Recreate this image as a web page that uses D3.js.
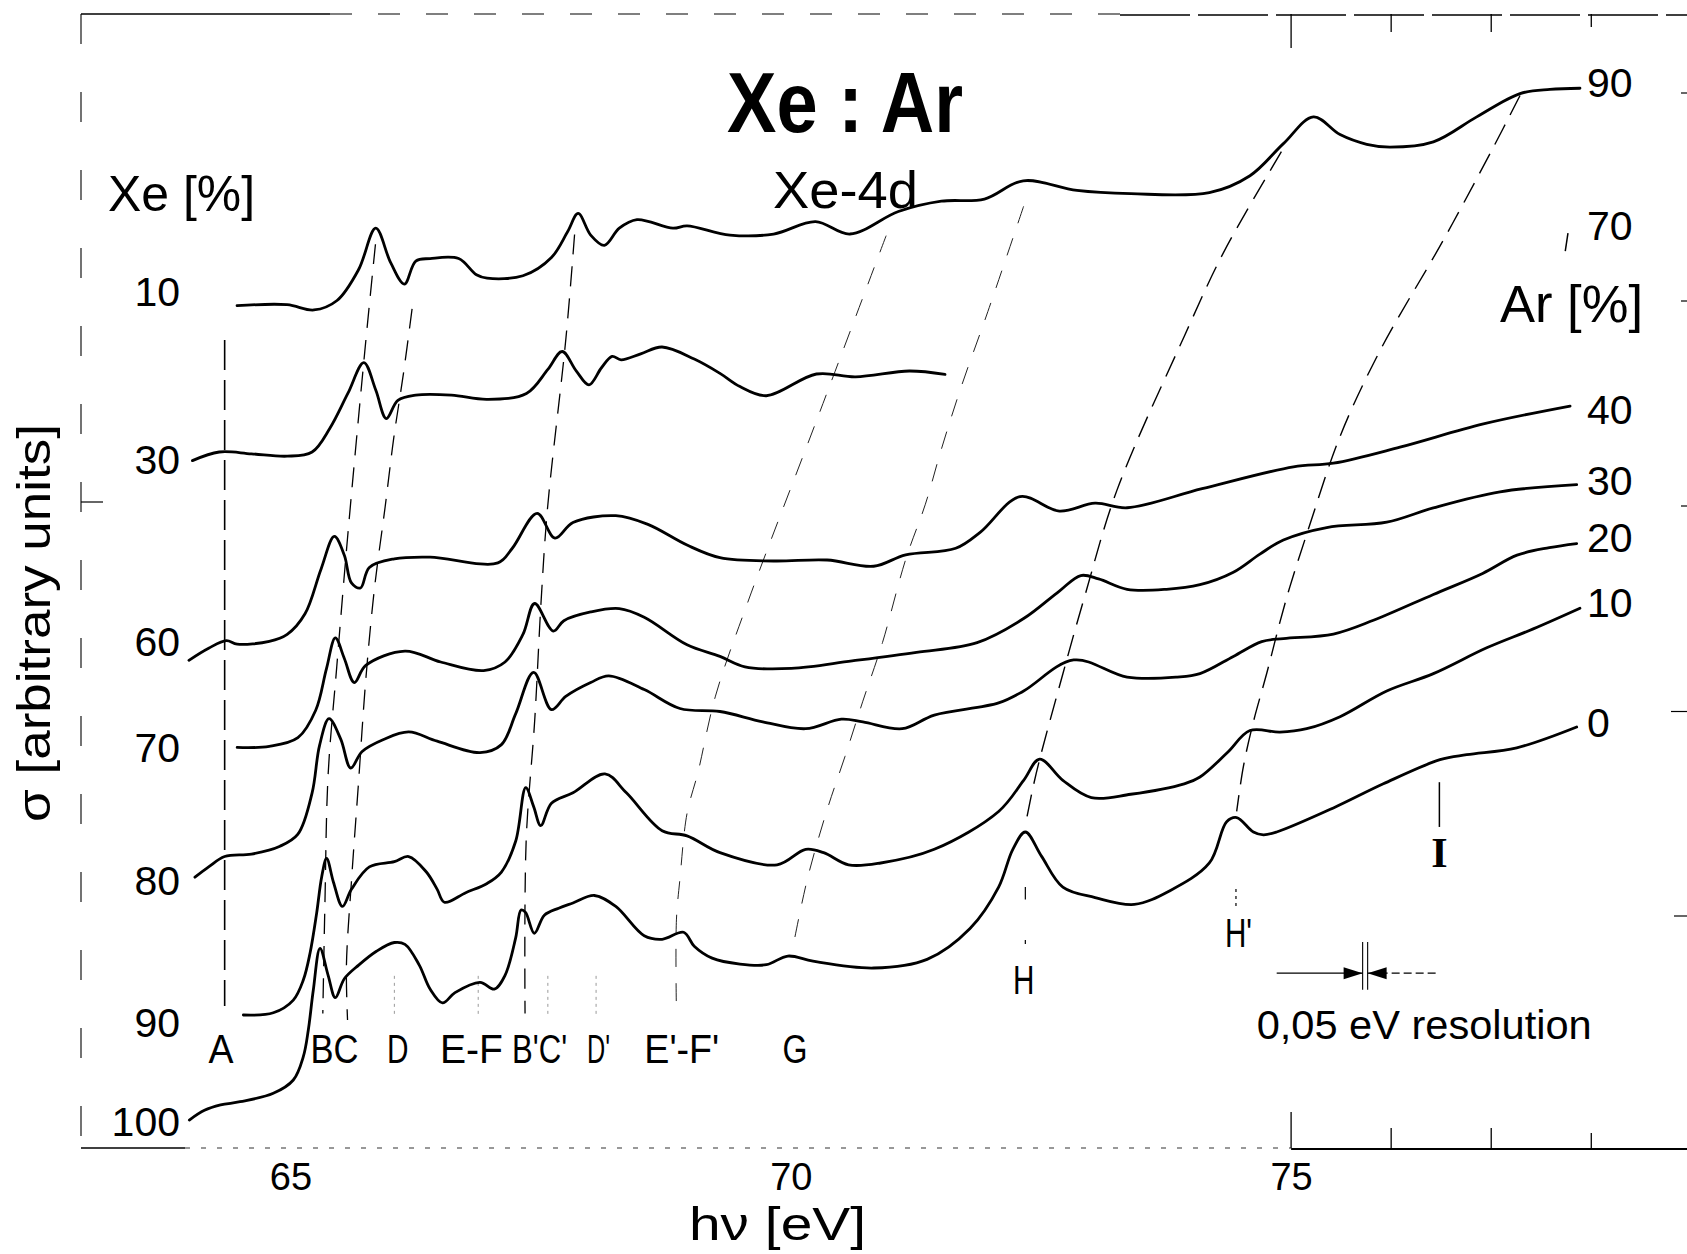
<!DOCTYPE html>
<html><head><meta charset="utf-8">
<script src="https://cdn.jsdelivr.net/npm/d3@7"></script>
<style>html,body{margin:0;padding:0;background:#fff;overflow:hidden}</style>
</head><body>
<svg id="chart" width="1687" height="1254"></svg>
<script>
// ---------- DATA (photon energy hv [eV], sigma [arbitrary units]) ----------
const xe10 = [[64.466,78.29],[64.966,78.38],[65.234,77.89],[65.465,78.77],[65.681,81.65],[65.852,85.49],[66.001,82.29],[66.138,80.3],[66.252,82.44],[66.395,82.67],[66.68,82.67],[66.858,81.17],[66.965,80.85],[67.323,81.07],[67.608,82.77],[67.769,85.16],[67.875,86.86],[68.0,84.85],[68.137,83.89],[68.286,85.49],[68.463,86.29],[68.822,85.49],[68.963,85.71],[69.392,84.85],[69.828,84.95],[70.247,86.1],[70.591,84.95],[71.075,87.04],[71.505,88.0],[71.935,88.2],[72.323,89.9],[72.86,89.0],[73.398,88.7],[74.183,88.8],[74.589,90.37],[74.923,93.35],[75.223,95.84],[75.489,94.19],[75.756,93.29],[75.988,93.03],[76.422,93.52],[76.855,95.84],[77.288,98.0],[77.587,98.4],[77.887,98.5]];
const xe30 = [[64.020,63.89],[64.288,64.69],[64.610,64.52],[64.967,64.3],[65.216,64.69],[65.395,66.92],[65.573,70.13],[65.733,73.0],[65.852,70.45],[65.958,67.8],[66.073,69.49],[66.252,69.97],[66.609,69.97],[66.965,69.58],[67.358,70.13],[67.572,72.37],[67.715,74.03],[67.857,72.21],[67.983,70.93],[68.108,72.52],[68.214,73.58],[68.304,73.26],[68.5,73.81],[68.713,74.45],[69.035,73.33],[69.292,72.0],[69.492,70.77],[69.756,69.92],[70.256,71.94],[70.648,71.68],[71.185,72.22],[71.541,71.9]];
const xe60 = [[63.985,45.33],[64.182,46.45],[64.359,47.16],[64.467,46.83],[64.788,47.09],[64.967,47.74],[65.145,49.65],[65.305,53.8],[65.438,56.84],[65.538,55.09],[65.609,52.52],[65.699,52.05],[65.788,53.96],[66.038,54.76],[66.395,54.92],[67.073,54.38],[67.215,55.72],[67.465,58.99],[67.643,56.68],[67.823,58.13],[68.251,58.77],[68.572,57.96],[68.963,56.04],[69.292,54.87],[69.828,54.56],[70.363,54.65],[70.828,54.07],[71.148,55.13],[71.648,55.74],[71.898,57.27],[72.290,60.54],[72.684,59.2],[73.041,59.93],[73.361,59.51],[74.111,61.28],[75.023,63.31],[75.423,63.65],[76.088,65.14],[76.922,67.3],[77.788,68.96]];
const xe70 = [[64.467,37.23],[64.788,37.33],[65.074,38.14],[65.252,40.69],[65.359,44.53],[65.448,47.41],[65.538,45.5],[65.638,43.26],[65.752,44.85],[66.144,46.19],[66.501,45.17],[66.930,44.37],[67.144,45.17],[67.323,47.73],[67.44,50.61],[67.626,48.05],[67.732,49.01],[68.0,49.82],[68.286,50.13],[68.535,49.33],[68.963,46.77],[69.292,45.69],[69.542,44.72],[70.006,44.57],[70.613,45.27],[71.256,46.07],[71.862,46.97],[72.327,49.21],[72.684,51.77],[72.898,53.21],[73.076,52.89],[73.361,51.93],[73.754,51.93],[74.089,52.36],[74.423,53.52],[74.688,55.2],[74.923,56.51],[75.356,57.67],[75.956,58.17],[76.422,59.5],[77.088,60.99],[77.854,61.66]];
const xe80 = [[64.045,25.17],[64.182,26.13],[64.342,27.09],[64.610,27.32],[64.895,28.05],[65.074,29.17],[65.216,33.01],[65.290,37.4],[65.385,39.9],[65.502,38.0],[65.602,35.32],[65.716,36.85],[65.930,37.97],[66.181,38.67],[66.466,37.81],[66.894,36.75],[67.108,37.49],[67.251,40.37],[67.430,44.21],[67.608,40.75],[67.751,41.97],[68.0,43.26],[68.180,43.89],[68.535,42.61],[68.892,40.85],[69.292,40.57],[69.720,39.61],[70.149,38.97],[70.505,39.86],[70.720,39.61],[71.113,38.97],[71.434,40.24],[72.077,41.37],[72.327,42.48],[72.827,45.36],[73.361,43.77],[73.861,43.77],[74.089,44.09],[74.423,45.69],[74.706,47.07],[74.923,47.35],[75.423,47.77],[75.823,49.05],[76.422,51.45],[76.914,53.4],[77.258,55.1],[77.581,55.8],[77.854,56.18]];
const xe90 = [[64.529,12.36],[64.828,12.57],[65.028,13.75],[65.128,15.61],[65.195,18.1],[65.261,21.81],[65.312,25.22],[65.361,26.92],[65.430,24.68],[65.519,22.45],[65.609,24.04],[65.788,26.13],[66.038,26.61],[66.181,27.09],[66.358,25.65],[66.466,24.04],[66.538,22.84],[66.751,23.73],[66.965,24.59],[67.108,25.65],[67.251,28.53],[67.351,33.49],[67.43,31.73],[67.501,29.96],[67.608,32.05],[67.823,33.01],[68.143,34.77],[68.357,33.01],[68.714,29.49],[68.963,29.01],[69.292,27.45],[69.863,26.32],[70.149,27.76],[70.328,27.45],[70.577,26.32],[70.899,26.49],[71.434,27.76],[72.077,31.28],[72.327,34.17],[72.487,36.15],[72.719,34.17],[73.004,32.57],[73.397,32.88],[73.932,33.85],[74.089,34.48],[74.361,36.73],[74.589,38.8],[74.889,38.65],[75.156,38.97],[75.489,40.09],[75.956,42.48],[76.422,44.09],[76.955,46.49],[77.420,48.25],[77.887,50.17]];
const xe100 = [[63.989,2.6],[64.140,3.5],[64.301,4.0],[64.496,4.3],[64.828,5.08],[65.028,6.32],[65.128,8.49],[65.178,10.97],[65.228,14.68],[65.295,18.56],[65.376,16.05],[65.448,13.97],[65.538,15.73],[65.681,17.0],[65.859,18.29],[66.038,19.1],[66.144,18.93],[66.287,17.0],[66.395,14.77],[66.519,13.48],[66.644,14.44],[66.894,15.4],[67.037,14.77],[67.144,16.05],[67.251,19.56],[67.304,22.12],[67.349,21.9],[67.437,19.96],[67.537,21.64],[67.680,22.29],[67.823,22.77],[68.037,23.47],[68.251,22.45],[68.535,19.73],[68.714,19.4],[68.929,20.05],[69.035,18.76],[69.214,17.65],[69.492,17.1],[69.756,17.04],[69.971,17.84],[70.222,17.36],[70.828,16.73],[71.362,17.53],[71.791,20.4],[72.077,24.25],[72.219,27.76],[72.344,29.37],[72.505,27.13],[72.719,24.25],[73.041,23.28],[73.433,22.64],[73.790,23.92],[74.183,26.49],[74.356,30.33],[74.456,30.71],[74.623,29.37],[74.723,29.11],[74.856,29.37],[75.423,31.61],[75.922,33.85],[76.488,36.09],[76.755,36.56],[77.255,37.2],[77.854,39.13]];

const xeLabels = ["10","30","60","70","80","90","100"];
const arLabels = ["90","70","40","30","20","10","0"];
const xTickValues = [65, 70, 75];
const frameTickValues = [75, 76, 77, 78];

// dashed correlation lines between features
const guideA   = [[64.342,75.1],[64.342,13.2]];
const guideB   = [[65.849,84.0],[65.742,74.0],[65.570,56.7],[65.462,44.7],[65.376,34.7],[65.344,22.7],[65.323,12.5]];
const guideC   = [[66.215,78.0],[66.129,72.0],[66.032,66.0],[65.946,59.6],[65.839,52.0],[65.753,43.6],[65.677,33.6],[65.613,25.3],[65.559,17.0],[65.570,11.9]];
const guideBp  = [[67.839,84.9],[67.753,75.3],[67.570,59.6],[67.505,50.9],[67.441,39.8],[67.355,28.5],[67.344,12.5]];
const guideEFp = [[70.953,84.8],[70.269,67.9],[69.578,50.93],[69.247,42.0],[69.072,34.9],[68.963,31.1],[68.892,25.0],[68.857,21.2],[68.857,12.5]];
const guideG   = [[72.327,87.53],[71.970,77.76],[71.702,70.72],[71.505,64.96],[71.345,59.84],[71.148,54.7],[70.916,46.97],[70.720,41.53],[70.542,36.4],[70.363,31.44],[70.167,25.05],[70.024,18.8]];
const guideH   = [[74.903,92.6],[74.323,83.2],[73.935,75.5],[73.258,61.1],[72.935,51.2],[72.720,44.1],[72.452,34.8],[72.344,30.0]];
const guideHp  = [[77.288,97.83],[77.022,93.03],[76.522,84.39],[75.888,74.1],[75.489,66.14],[75.172,57.5],[74.989,52.2],[74.889,48.9],[74.756,44.1],[74.623,39.6],[74.523,35.45],[74.456,31.28]];
const featureTickEV = [66.038, 66.876, 67.572, 68.054];
const featureI = 76.482;
const resolutionEV = 0.05;
const resolutionCenter = 75.74;

// ---------- LAYOUT ----------
const W = 1687, H = 1254;
const svg = d3.select("#chart");
svg.append("rect").attr("width",W).attr("height",H).attr("fill","#fff");
const x = d3.scaleLinear().domain([65, 75]).range([290.5, 1291.1]);
const y = d3.scaleLinear().domain([0, 100]).range([1148, 72.1]);
const FS = "'Liberation Sans Narrow','Liberation Sans','DejaVu Sans Condensed',Arial,sans-serif";

function label(str, px, py, size, o = {}) {
  const t = svg.append("text").attr("x", px).attr("y", py)
    .attr("font-size", size).attr("font-family", o.family || FS)
    .attr("fill", "#000").text(str);
  if (o.anchor) t.attr("text-anchor", o.anchor);
  if (o.weight) t.attr("font-weight", o.weight);
  if (o.len) t.attr("textLength", o.len).attr("lengthAdjust", "spacingAndGlyphs");
  if (o.transform) t.attr("transform", o.transform);
  return t;
}

// ---------- FRAME ----------
const frame = svg.append("g").attr("stroke", "#000").attr("fill", "none");
const xLeft = 81, yTop = 14, yAxis = y(0), xRight = W;
frame.append("line").attr("x1", xLeft).attr("x2", 330).attr("y1", yTop).attr("y2", yTop).attr("stroke-width", 1.4);
frame.append("line").attr("x1", 330).attr("x2", 1120).attr("y1", yTop).attr("y2", yTop).attr("stroke-width", 1.1).attr("stroke-dasharray", "22,26");
frame.append("line").attr("x1", 1120).attr("x2", xRight).attr("y1", yTop + 1).attr("y2", yTop + 1).attr("stroke-width", 1.4).attr("stroke-dasharray", "70,8");
frame.append("line").attr("x1", xLeft).attr("x2", xLeft).attr("y1", yTop).attr("y2", yAxis).attr("stroke-width", 1.1).attr("stroke-dasharray", "30,48");
frame.append("line").attr("x1", xLeft).attr("x2", 103).attr("y1", 502).attr("y2", 502).attr("stroke-width", 1.2);
frame.append("line").attr("x1", xLeft).attr("x2", 185).attr("y1", yAxis).attr("y2", yAxis).attr("stroke-width", 1.6);
frame.append("line").attr("x1", 185).attr("x2", x(75)).attr("y1", yAxis).attr("y2", yAxis).attr("stroke-width", 1.2).attr("stroke", "#333").attr("stroke-dasharray", "5,11");
frame.append("line").attr("x1", x(75)).attr("x2", xRight).attr("y1", yAxis + 1).attr("y2", yAxis + 1).attr("stroke-width", 2);
const tickLen = {75: 34, 76: 18, 77: 18, 78: 13};
frameTickValues.forEach(v => {
  frame.append("line").attr("x1", x(v)).attr("x2", x(v)).attr("y1", yTop).attr("y2", yTop + tickLen[v]).attr("stroke-width", 1.3);
  frame.append("line").attr("x1", x(v)).attr("x2", x(v)).attr("y1", yAxis).attr("y2", yAxis - tickLen[v] - 2).attr("stroke-width", 1.3);
});
[[93, 6], [301, 6], [506, 6], [711.5, 16], [916, 13]].forEach(([yy, len]) => {
  frame.append("line").attr("x1", W - len).attr("x2", W).attr("y1", yy).attr("y2", yy).attr("stroke-width", 1.2);
});

// x axis tick labels through d3 axis
const xAxis = d3.axisBottom(x).tickValues(xTickValues).tickSize(0).tickPadding(15).tickFormat(d3.format("d"));
const gx = svg.append("g").attr("transform", `translate(0,${yAxis})`).call(xAxis);
gx.select(".domain").remove();
gx.selectAll("text").attr("font-size", 38).attr("font-family", FS).attr("fill", "#000");

// ---------- GUIDE LINES ----------
const gl = d3.line().x(d => x(d[0])).y(d => y(d[1])).curve(d3.curveCatmullRom.alpha(0.5));
const guides = svg.append("g").attr("fill", "none").attr("stroke", "#000");
guides.append("path").attr("d", gl(guideA)).attr("stroke-width", 1.6).attr("stroke-dasharray", "30,10");
[guideB, guideC, guideBp].forEach(g => guides.append("path").attr("d", gl(g)).attr("stroke-width", 1.3).attr("stroke-dasharray", "20,12"));
[guideEFp, guideG].forEach(g => guides.append("path").attr("d", gl(g)).attr("stroke-width", 1.0).attr("stroke", "#222").attr("stroke-dasharray", "18,16"));
[guideH, guideHp].forEach(g => guides.append("path").attr("d", gl(g)).attr("stroke-width", 1.4).attr("stroke-dasharray", "22,11"));
featureTickEV.forEach(v => guides.append("line").attr("x1", x(v)).attr("x2", x(v)).attr("y1", y(16)).attr("y2", y(12.4))
  .attr("stroke", "#999").attr("stroke-width", 1).attr("stroke-dasharray", "3,4"));
// small marks above H and H'
guides.append("line").attr("x1", x(72.344)).attr("x2", x(72.344)).attr("y1", y(24.26)).attr("y2", y(23.1)).attr("stroke-width", 1.2);
guides.append("line").attr("x1", x(72.344)).attr("x2", x(72.344)).attr("y1", y(19.33)).attr("y2", y(18.96)).attr("stroke-width", 1.2);
guides.append("line").attr("x1", x(74.449)).attr("x2", x(74.449)).attr("y1", y(24.07)).attr("y2", y(22.31)).attr("stroke-width", 1.2).attr("stroke-dasharray", "3,4");
// marker I
guides.append("line").attr("x1", x(featureI)).attr("x2", x(featureI)).attr("y1", y(34.0)).attr("y2", y(29.84)).attr("stroke-width", 1.5);
// small tick next to right label 70
guides.append("line").attr("x1", x(77.767)).attr("x2", x(77.74)).attr("y1", y(85.04)).attr("y2", y(83.37)).attr("stroke-width", 1.5);

// ---------- SPECTRA ----------
const series = [xe10, xe30, xe60, xe70, xe80, xe90, xe100];
const line = d3.line().x(d => x(d[0])).y(d => y(d[1])).curve(d3.curveCatmullRom.alpha(0.5));
svg.append("g").selectAll("path").data(series).join("path")
  .attr("d", line).attr("fill", "none").attr("stroke", "#000")
  .attr("stroke-width", 2.8).attr("stroke-linejoin", "round").attr("stroke-linecap", "round");

// ---------- RESOLUTION MARKER ----------
const tipL = x(resolutionCenter - resolutionEV / 2), tipR = x(resolutionCenter + resolutionEV / 2), yr = y(16.25);
const res = svg.append("g").attr("stroke", "#000");
res.append("line").attr("x1", x(74.856)).attr("x2", tipL).attr("y1", yr).attr("y2", yr).attr("stroke-width", 1.1);
res.append("line").attr("x1", tipR).attr("x2", x(76.472)).attr("y1", yr).attr("y2", yr).attr("stroke-width", 1.1).attr("stroke-dasharray", "8,4");
res.append("line").attr("x1", tipL).attr("x2", tipL).attr("y1", y(19.15)).attr("y2", y(14.7)).attr("stroke-width", 1.1);
res.append("line").attr("x1", tipR).attr("x2", tipR).attr("y1", y(19.15)).attr("y2", y(14.7)).attr("stroke-width", 1.1);
res.append("path").attr("d", `M${tipL - 19},${yr - 6}L${tipL},${yr}L${tipL - 19},${yr + 6}Z`).attr("fill", "#000").attr("stroke", "none");
res.append("path").attr("d", `M${tipR + 19},${yr - 6}L${tipR},${yr}L${tipR + 19},${yr + 6}Z`).attr("fill", "#000").attr("stroke", "none");

// ---------- TEXT ----------
label("Xe : Ar", 727, 132, 85, {weight: "bold", len: 236});
label("Xe-4d", 773, 208, 52, {len: 145});
label("Xe [%]", 108, 211, 50, {len: 147});
label("Ar [%]", 1500, 322, 51, {len: 143});
label("σ [arbitrary units]", 0, 0, 46, {len: 398, transform: "translate(50,822) rotate(-90)"});
label("hν [eV]", 689, 1240, 47, {len: 177});

const xeLabelY = [306, 473.5, 655.6, 761.5, 895, 1036.5, 1135.6];
xeLabels.forEach((s, i) => label(s, 180, xeLabelY[i], 41, {anchor: "end"}));
const arLabelY = [97, 240, 424, 495, 552, 617, 737];
arLabels.forEach((s, i) => label(s, 1587, arLabelY[i], 41));

const featLabels = [["A", 208.6, 25], ["BC", 310.4, 48], ["D", 387.1, 21.5], ["E-F", 440, 63], ["B'C'", 512.1, 55], ["D'", 587.1, 23], ["E'-F'", 644.3, 75], ["G", 782.5, 25]];
featLabels.forEach(f => label(f[0], f[1], 1063, 40, {len: f[2]}));
label("H", 1012.9, 994, 40, {len: 21.4});
label("H'", 1225, 947, 40, {len: 27});
label("I", x(featureI), 866.5, 42, {anchor: "middle", weight: "bold", family: "'Liberation Serif','DejaVu Serif',serif"});
label("0,05 eV  resolution", 1256.7, 1039, 40, {len: 335});
</script>
</body></html>
